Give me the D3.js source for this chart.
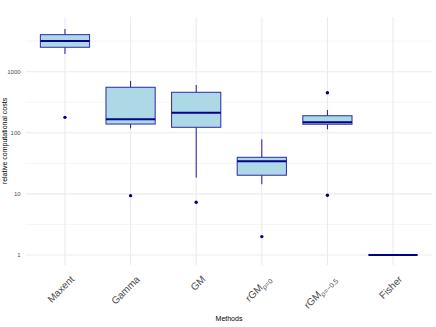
<!DOCTYPE html>
<html>
<head>
<meta charset="utf-8">
<script src="https://d3js.org/d3.v7.min.js"></script>
<style>
  body { margin: 0; background: #fff; }
  text { font-family: "Liberation Sans", Arial, sans-serif; }
</style>
</head>
<body>
<svg id="chart" width="436" height="327"></svg>
<script>
// data
var methods = ["Maxent", "Gamma", "GM", "rGM0", "rGM05", "Fisher"];
var whiskerLow = [1950, 118, 18.4, 14.4, 114, 1];
var q1 = [2510, 139, 123, 20.2, 138, 1];
var median = [3180, 166, 213, 34.2, 149, 1];
var q3 = [4035, 556, 460, 39.7, 190, 1];
var whiskerHigh = [5000, 705, 606, 78, 236, 1];
var outliers = [[179], [9.35], [7.3], [2.0], [453, 9.5], []];
var yTicks = [1, 10, 100, 1000];
var yMinor = [Math.sqrt(10), Math.sqrt(10) * 10, Math.sqrt(10) * 100, Math.sqrt(10) * 1000];

var svg = d3.select("#chart");
// note: "top" is taken by window.top, so use panel* names
var panelL = 25.6, panelR = 432.4, panelT = 17, panelB = 265;

// ggplot style: 0.6 unit expansion on each side of a discrete axis
var x = d3.scalePoint().domain(methods).range([panelL, panelR]).padding(0.6);
var step = x.step();
function cx(m) { return x(m); }
var boxW = 0.75 * step;

var y = d3.scaleLog().domain([Math.pow(10, -0.164), Math.pow(10, 3.895)]).range([panelB, panelT]);

var grid = svg.append("g");
grid.selectAll("line.minor").data(yMinor).enter().append("line")
  .attr("x1", panelL).attr("x2", panelR)
  .attr("y1", function(d) { return y(d); }).attr("y2", function(d) { return y(d); })
  .attr("stroke", "#f2f2f2").attr("stroke-width", 0.8);
grid.selectAll("line.major").data(yTicks).enter().append("line")
  .attr("x1", panelL).attr("x2", panelR)
  .attr("y1", function(d) { return y(d); }).attr("y2", function(d) { return y(d); })
  .attr("stroke", "#ebebeb").attr("stroke-width", 1.1);
grid.selectAll("line.vert").data(methods).enter().append("line")
  .attr("x1", cx).attr("x2", cx)
  .attr("y1", panelT).attr("y2", panelB)
  .attr("stroke", "#ebebeb").attr("stroke-width", 1.1);

// y axis labels
var yAxis = d3.axisLeft(y).tickValues(yTicks).tickSize(0).tickPadding(4)
  .tickFormat(function(d) { return String(d); });
var ya = svg.append("g").attr("transform", "translate(" + (panelL - 1) + ",0)").call(yAxis);
ya.select(".domain").remove();
ya.selectAll("text").attr("fill", "#4d4d4d").style("font-size", "6px")
  .style("font-family", "Liberation Sans, Arial, sans-serif");

// boxes
var boxes = svg.append("g").selectAll("g").data(methods).enter().append("g");
boxes.append("line")
  .attr("x1", cx).attr("x2", cx)
  .attr("y1", function(d, i) { return y(q3[i]); })
  .attr("y2", function(d, i) { return y(whiskerHigh[i]); })
  .attr("stroke", "#1a1aa6").attr("stroke-width", 1);
boxes.append("line")
  .attr("x1", cx).attr("x2", cx)
  .attr("y1", function(d, i) { return y(q1[i]); })
  .attr("y2", function(d, i) { return y(whiskerLow[i]); })
  .attr("stroke", "#1a1aa6").attr("stroke-width", 1);
boxes.append("rect")
  .attr("x", function(d) { return cx(d) - boxW / 2; })
  .attr("width", boxW)
  .attr("y", function(d, i) { return y(q3[i]); })
  .attr("height", function(d, i) { return y(q1[i]) - y(q3[i]); })
  .attr("fill", "#add8e6")
  .attr("stroke", "#2a2aa8").attr("stroke-width", 1);
boxes.append("line")
  .attr("x1", function(d) { return cx(d) - boxW / 2; })
  .attr("x2", function(d) { return cx(d) + boxW / 2; })
  .attr("y1", function(d, i) { return y(median[i]); })
  .attr("y2", function(d, i) { return y(median[i]); })
  .attr("stroke", "#00008b").attr("stroke-width", 2);
boxes.each(function(d, i) {
  d3.select(this).selectAll("circle").data(outliers[i]).enter().append("circle")
    .attr("cx", cx(d)).attr("cy", function(v) { return y(v); })
    .attr("r", 1.7).attr("fill", "#00008b");
});

// x tick labels, rotated 45 degrees
var labels = svg.append("g").selectAll("text").data(methods).enter().append("text")
  .attr("transform", function(d) { return "translate(" + (cx(d) + 5) + ",275) rotate(-45)"; })
  .attr("text-anchor", "end")
  .attr("fill", "#4d4d4d")
  .style("font-size", "10px");
labels.each(function(d) {
  var t = d3.select(this);
  if (d === "rGM0" || d === "rGM05") {
    t.append("tspan").attr("dy", "0.7em").text("rGM");
    t.append("tspan").attr("dy", "0.3em").style("font-size", "7px")
      .text(d === "rGM0" ? "\u03c1=0" : "\u03c1=\u22120.5");
  } else {
    t.append("tspan").attr("dy", "0.7em").text(d);
  }
});

svg.append("text")
  .attr("x", (panelL + panelR) / 2).attr("y", 321)
  .attr("text-anchor", "middle")
  .style("font-size", "7px").attr("fill", "#000")
  .text("Methods");

svg.append("text")
  .attr("transform", "translate(7," + ((panelT + panelB) / 2) + ") rotate(-90)")
  .attr("text-anchor", "middle")
  .style("font-size", "7px").attr("fill", "#000")
  .text("relative computational costs");
</script>
</body>
</html>
